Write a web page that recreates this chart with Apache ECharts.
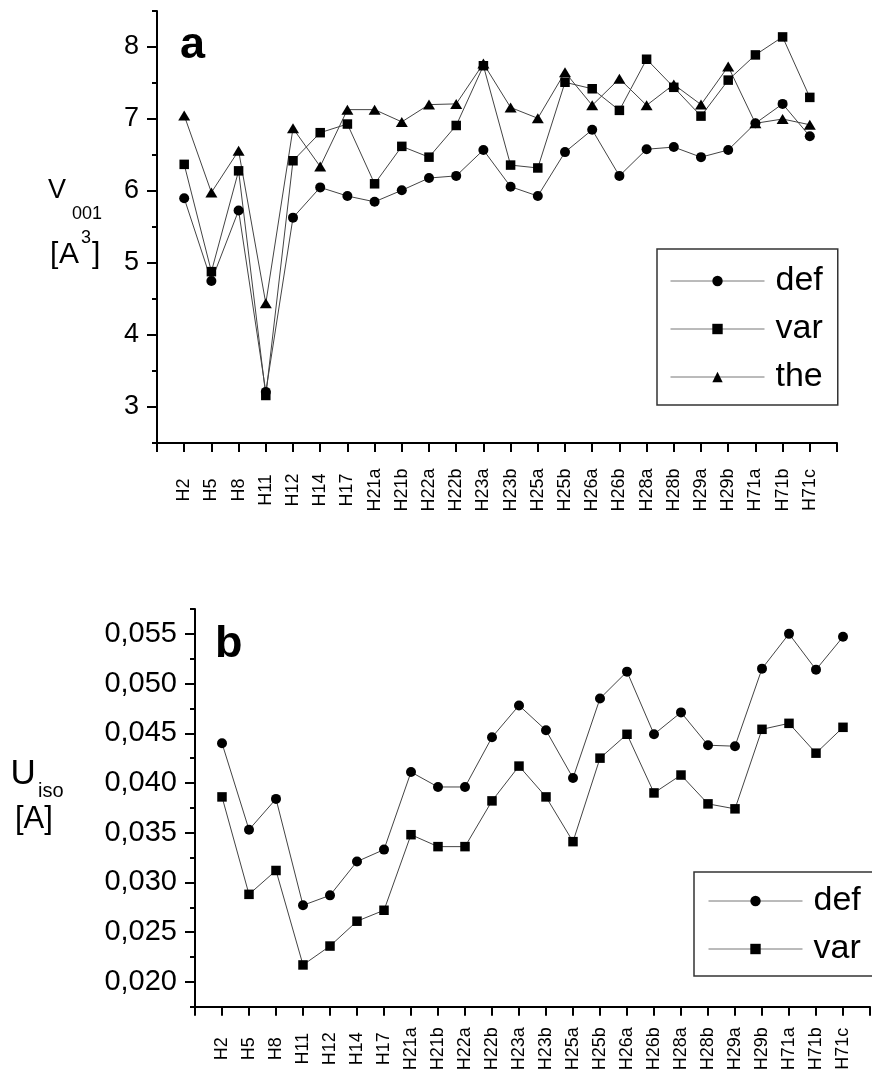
<!DOCTYPE html>
<html>
<head>
<meta charset="utf-8">
<script src="https://cdn.jsdelivr.net/npm/echarts@6/dist/echarts.min.js"></script>
<style>
  html, body { margin: 0; padding: 0; background: #fff; }
  #chart { width: 872px; height: 1075px; }
</style>
</head>
<body>
<div id="chart"></div>
<script>
// Structures along the horizontal axis
const categories = ['H2','H5','H8','H11','H12','H14','H17','H21a','H21b','H22a','H22b','H23a','H23b','H25a','H25b','H26a','H26b','H28a','H28b','H29a','H29b','H71a','H71b','H71c'];

// Panel a: V001 [A^3]
const v001Def = [5.90,4.75,5.73,3.21,5.63,6.05,5.93,5.85,6.01,6.18,6.21,6.57,6.06,5.93,6.54,6.85,6.21,6.58,6.61,6.47,6.57,6.94,7.21,6.76];
const v001Var = [6.37,4.88,6.28,3.16,6.42,6.81,6.93,6.10,6.62,6.47,6.91,7.74,6.36,6.32,7.51,7.42,7.12,7.83,7.44,7.04,7.54,7.89,8.14,7.30];
const v001The = [7.05,5.98,6.56,4.44,6.87,6.34,7.13,7.13,6.96,7.20,7.21,7.77,7.16,7.01,7.65,7.19,7.56,7.19,7.48,7.20,7.73,6.94,7.00,6.92];

// Panel b: Uiso [A]
const uisoDef = [0.0440,0.0353,0.0384,0.0277,0.0287,0.0321,0.0333,0.0411,0.0396,0.0396,0.0446,0.0478,0.0453,0.0405,0.0485,0.0512,0.0449,0.0471,0.0438,0.0437,0.0515,0.0550,0.0514,0.0547];
const uisoVar = [0.0386,0.0288,0.0312,0.0217,0.0236,0.0261,0.0272,0.0348,0.0336,0.0336,0.0382,0.0417,0.0386,0.0341,0.0425,0.0449,0.0390,0.0408,0.0379,0.0374,0.0454,0.0460,0.0430,0.0456];

// Labelled (major) ticks of the two value axes
const v001Ticks = [3, 4, 5, 6, 7, 8];
const uisoTicks = [0.020, 0.025, 0.030, 0.035, 0.040, 0.045, 0.050, 0.055];

const FONT = '"Liberation Sans", Arial, sans-serif';
const AXIS_COLOR = '#000';

function categoryAxis(gridIndex, margin) {
  return {
    type: 'value', gridIndex: gridIndex,
    min: 0, max: categories.length + 1, interval: 1,
    axisLine: { show: true, onZero: false, lineStyle: { color: AXIS_COLOR, width: 2 } },
    axisTick: { show: true, inside: false, length: 9, lineStyle: { color: AXIS_COLOR, width: 2 } },
    splitLine: { show: false },
    axisLabel: {
      rotate: 90, align: 'center', verticalAlign: 'middle', margin: margin,
      fontFamily: FONT, fontSize: 18, color: '#000',
      formatter: function (v) {
        const i = Math.round(v);
        return (i >= 1 && i <= categories.length) ? categories[i - 1] : '';
      }
    }
  };
}

// minor-tick axis carrying the axis line
function minorAxis(gridIndex, min, max, step) {
  return {
    type: 'value', gridIndex: gridIndex, position: 'left',
    min: min, max: max, interval: step,
    axisLine: { show: true, onZero: false, lineStyle: { color: AXIS_COLOR, width: 2 } },
    axisTick: { show: true, inside: false, length: 5, lineStyle: { color: AXIS_COLOR, width: 2 } },
    axisLabel: { show: false },
    splitLine: { show: false }
  };
}

// major-tick axis carrying the labels
function majorAxis(gridIndex, min, max, ticks, fontSize, fmt) {
  return {
    type: 'value', gridIndex: gridIndex, position: 'left',
    min: min, max: max,
    axisLine: { show: false },
    axisTick: { show: true, inside: false, length: 10, customValues: ticks, lineStyle: { color: AXIS_COLOR, width: 2 } },
    axisLabel: { show: true, customValues: ticks, margin: 18, fontFamily: FONT, fontSize: fontSize, color: '#000', formatter: fmt },
    splitLine: { show: false }
  };
}

function lineSeries(name, values, symbol, size, gridIndex, yAxisIndex) {
  return {
    type: 'line', name: name,
    xAxisIndex: gridIndex, yAxisIndex: yAxisIndex,
    data: values.map(function (v, i) { return [i + 1, v]; }),
    symbol: symbol, symbolSize: size, showSymbol: true,
    lineStyle: { color: '#444', width: 1 },
    itemStyle: { color: '#000' },
    emphasis: { disabled: true },
    animation: false
  };
}

function legendBox(names, left, top, padding) {
  return {
    data: names, orient: 'vertical', left: left, top: top,
    padding: padding, itemGap: 14, itemWidth: 94, itemHeight: 13,
    borderColor: '#333', borderWidth: 1.5, selectedMode: false,
    lineStyle: { color: '#777', width: 1 },
    textStyle: { fontFamily: FONT, fontSize: 34, color: '#000', padding: [0, 0, 0, 6] }
  };
}

function txt(text, x, y, size, bold) {
  return {
    type: 'text', x: x, y: y, silent: true,
    style: { text: text, fill: '#000', font: (bold ? 'bold ' : '') + size + 'px ' + FONT, align: 'left', verticalAlign: 'middle' }
  };
}

const chart = echarts.init(document.getElementById('chart'), null, { renderer: 'canvas' });

chart.setOption({
  backgroundColor: '#fff',
  animation: false,
  grid: [
    { left: 157, top: 11, width: 680, height: 432 },
    { left: 195, top: 609, width: 675, height: 397.7 }
  ],
  xAxis: [categoryAxis(0, 47), categoryAxis(1, 42)],
  yAxis: [
    minorAxis(0, 2.5, 8.5, 0.5),
    majorAxis(0, 2.5, 8.5, v001Ticks, 27, function (v) { return String(Math.round(v)); }),
    minorAxis(1, 0.0175, 0.0575, 0.0025),
    majorAxis(1, 0.0175, 0.0575, uisoTicks, 29, function (v) { return v.toFixed(3).replace('.', ','); })
  ],
  legend: [
    legendBox(['def', 'var', 'the'], 657, 249, [15, 15, 11, 13]),
    legendBox(['def', 'var'], 694, 872, [12, 15, 10, 14])
  ],
  series: [
    lineSeries('def', v001Def, 'circle', 10, 0, 0),
    lineSeries('var', v001Var, 'rect', 9.5, 0, 0),
    lineSeries('the', v001The, 'triangle', [12, 10], 0, 0),
    lineSeries('def', uisoDef, 'circle', 10, 1, 2),
    lineSeries('var', uisoVar, 'rect', 9.5, 1, 2)
  ],
  graphic: [
    // panel letters
    txt('a', 180, 46, 45, true),
    txt('b', 215, 645, 45, true),
    // V001 [A^3]
    txt('V', 48, 190.5, 27),
    txt('001', 72, 213.8, 18),
    txt('[', 50, 255, 30),
    txt('A', 59, 255, 30),
    txt('3', 81, 238, 18),
    txt(']', 92, 255, 30),
    // Uiso [A]
    txt('U', 10.5, 774.6, 35),
    txt('iso', 38, 791.4, 20),
    txt('[A]', 15, 819.3, 31)
  ]
});
</script>
</body>
</html>
